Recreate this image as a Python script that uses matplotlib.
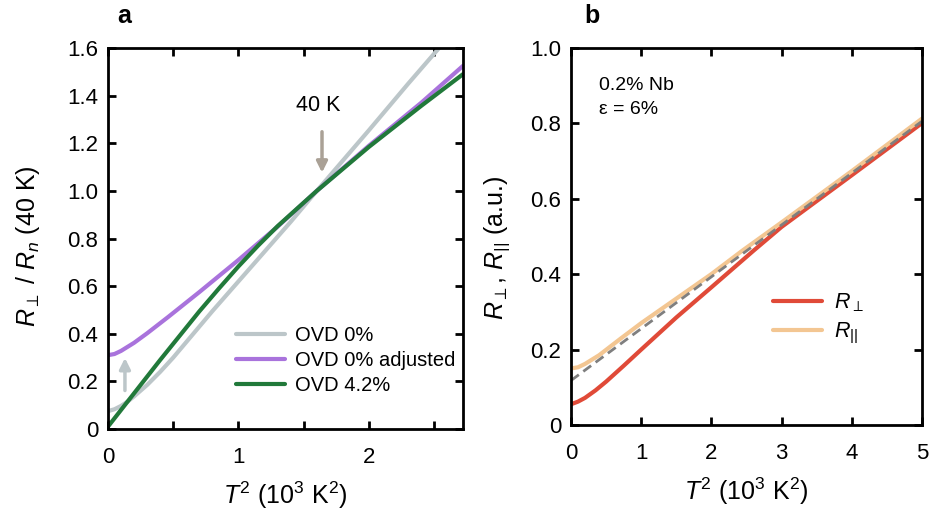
import numpy as np
import matplotlib
matplotlib.use('Agg')
import matplotlib.pyplot as plt

plt.rcParams['font.family'] = ['Liberation Sans', 'DejaVu Sans']
plt.rcParams['mathtext.fontset'] = 'custom'
plt.rcParams['mathtext.rm'] = 'Liberation Sans'
plt.rcParams['mathtext.it'] = 'Liberation Sans:italic'
plt.rcParams['mathtext.bf'] = 'Liberation Sans:bold'

# panel a: normalised resistance vs T^2 (10^3 K^2)
ovd0_t2 = [0, 0.05, 0.1, 0.15, 0.2, 0.3, 0.4, 0.5, 0.6, 0.8, 1.0, 1.2, 1.4, 1.6, 2.0, 2.3, 2.6]
ovd0_r = [0.075, 0.083, 0.097, 0.115, 0.137, 0.185, 0.24, 0.30, 0.365, 0.495, 0.62, 0.745,
          0.87, 1.0, 1.255, 1.45, 1.64]

adj_t2 = [0, 0.05, 0.1, 0.2, 0.3, 0.46, 0.7, 1.0, 1.3, 1.6, 2.0, 2.4, 2.72]
adj_r = [0.31, 0.315, 0.328, 0.362, 0.402, 0.47, 0.575, 0.71, 0.85, 1.0, 1.19, 1.37, 1.525]

ovd42_t2 = [0, 0.2, 0.4, 0.7, 0.85, 1.0, 1.15, 1.3, 1.6, 2.0, 2.4, 2.72]
ovd42_r = [0.01, 0.15, 0.29, 0.494, 0.59, 0.683, 0.77, 0.852, 1.0, 1.185, 1.357, 1.49]

# panel b: R_perp, R_par (a.u.) vs T^2
rperp_t2 = [0, 0.1, 0.2, 0.35, 0.5, 0.75, 1.0, 1.5, 2.0, 2.6, 3.0, 4.0, 5.0]
rperp = [0.055, 0.062, 0.072, 0.092, 0.115, 0.157, 0.20, 0.285, 0.365, 0.462, 0.525, 0.662, 0.80]

rpar_t2 = [0, 0.1, 0.2, 0.4, 0.7, 1.0, 1.5, 2.0, 2.44, 3.0, 4.0, 5.0]
rpar = [0.15, 0.153, 0.162, 0.185, 0.228, 0.27, 0.335, 0.40, 0.462, 0.537, 0.673, 0.812]

fit_t2 = [0, 5.0]
fit_r = [0.118, 0.805]

C_GRAY = '#bcc6c9'
C_PURPLE = '#a973dc'
C_GREEN = '#21793a'
C_RED = '#e04a38'
C_PEACH = '#f3c692'

fig = plt.figure(figsize=(9.3, 5.18), dpi=100)
ax1 = fig.add_axes([0.1161, 0.1718, 0.3817, 0.7355])
ax2 = fig.add_axes([0.614, 0.1795, 0.3774, 0.7285])

lw = 3
ax1.plot(ovd0_t2, ovd0_r, color=C_GRAY, lw=lw, label='OVD 0%', solid_capstyle='round')
ax1.plot(adj_t2, adj_r, color=C_PURPLE, lw=lw, label='OVD 0% adjusted', solid_capstyle='round')
ax1.plot(ovd42_t2, ovd42_r, color=C_GREEN, lw=lw, label='OVD 4.2%', solid_capstyle='round')

ax1.set_xlim(0, 2.72)
ax1.set_ylim(0, 1.6)
ax1.set_xticks(np.arange(0, 2.51, 0.5))
ax1.set_xticklabels(['0', '', '1', '', '2', ''])
ax1.set_yticks(np.arange(0, 1.61, 0.2))
ax1.set_yticklabels(['0'] + ['%.1f' % v for v in np.arange(0.2, 1.61, 0.2)])
ax1.set_xlabel(r'$T^2$ (10$^3$ K$^2$)', fontsize=18, labelpad=8)
ax1.set_ylabel(r'$R_\perp$ / $R_n$ (40 K)', fontsize=18)
ax1.yaxis.set_label_coords(-0.186, 0.48)

ax1.legend(loc='lower left', bbox_to_anchor=(0.36, 0.09), frameon=False,
           fontsize=14.5, handlelength=2.45, handletextpad=0.5, labelspacing=0.3,
           borderaxespad=0, borderpad=0)

# arrows
ax1.annotate('', xy=(0.13, 0.31), xytext=(0.13, 0.15),
             arrowprops=dict(arrowstyle='-|>', color=C_GRAY, lw=2.5, mutation_scale=16))
ax1.annotate('', xy=(1.64, 1.065), xytext=(1.64, 1.26),
             arrowprops=dict(arrowstyle='-|>', color='#aaa196', lw=2.5, mutation_scale=16))
ax1.text(1.61, 1.36, '40 K', fontsize=15.5, ha='center', va='center')

ax2.plot(rperp_t2, rperp, color=C_RED, lw=lw, label=r'$R_\perp$', solid_capstyle='round')
ax2.plot(rpar_t2, rpar, color=C_PEACH, lw=lw, label=r'$R_{||}$', solid_capstyle='round')
ax2.plot(fit_t2, fit_r, color='#7f7f7f', lw=2, ls=(0, (3.5, 2)))

ax2.set_xlim(0, 5)
ax2.set_ylim(0, 1.0)
ax2.set_xticks(range(6))
ax2.set_yticks(np.arange(0, 1.01, 0.2))
ax2.set_yticklabels(['0'] + ['%.1f' % v for v in np.arange(0.2, 1.01, 0.2)])
ax2.set_xlabel(r'$T^2$ (10$^3$ K$^2$)', fontsize=18, labelpad=8)
ax2.set_ylabel(r'$R_\perp$, $R_{||}$ (a.u.)', fontsize=18)
ax2.yaxis.set_label_coords(-0.168, 0.47)
ax2.legend(loc='lower left', bbox_to_anchor=(0.575, 0.21), frameon=False,
           fontsize=15.5, handlelength=2.3, handletextpad=0.55, labelspacing=0.3,
           borderaxespad=0, borderpad=0)
ax2.text(0.4, 0.9, '0.2% Nb', fontsize=14, ha='left', va='center')
ax2.text(0.4, 0.835, 'ε = 6%', fontsize=14, ha='left', va='center')

for ax in (ax1, ax2):
    for s in ax.spines.values():
        s.set_linewidth(2)
    ax.tick_params(direction='in', length=6, width=2, labelsize=16,
                   top=True, right=True)
    ax.tick_params(axis='x', pad=13)
    ax.tick_params(axis='y', pad=7)

fig.text(0.134, 0.97, 'a', fontsize=18, fontweight='bold', ha='center', va='center')
fig.text(0.636, 0.97, 'b', fontsize=18, fontweight='bold', ha='center', va='center')

fig.savefig('out.png', dpi=100)
